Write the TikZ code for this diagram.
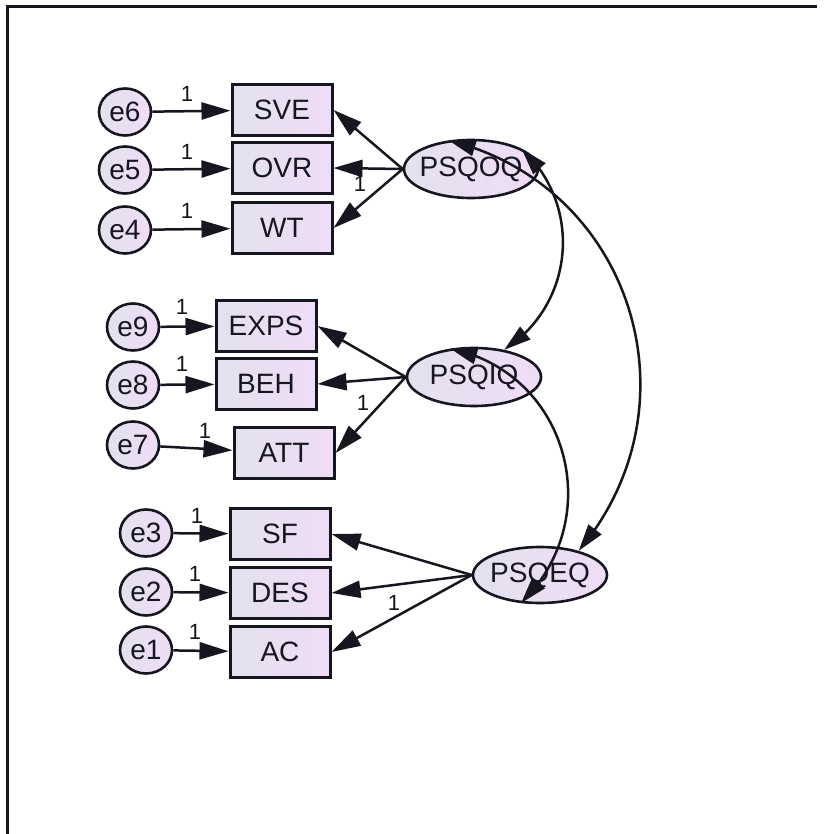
\documentclass[tikz,border=0pt]{standalone}
\usepackage{fontspec}
\setmainfont{Liberation Sans}
\usetikzlibrary{arrows.meta,bending,shapes.geometric}
\definecolor{fillL}{RGB}{226,226,238}
\definecolor{fillR}{RGB}{240,220,246}
\definecolor{ink}{RGB}{22,22,32}
\begin{document}
\begin{tikzpicture}[x=1pt,y=-1pt,
  every node/.style={text=ink},
  obs/.style={draw=ink, line width=3pt, rectangle, minimum width=100pt,
    minimum height=51pt, inner sep=0pt, left color=fillL, right color=fillR,
    font=\fontsize{28}{32}\selectfont},
  err/.style={draw=ink, line width=2.6pt, ellipse, minimum width=52pt,
    minimum height=47pt, inner sep=0pt, left color=fillL, right color=fillR,
    font=\fontsize{28}{32}\selectfont},
  lat/.style={err, inner xsep=-8pt, minimum width=134pt, minimum height=58pt},
  reg/.style={draw=ink, line width=2.5pt, -{Triangle[length=29pt,width=17pt]}},
  cov/.style={draw=ink, line width=2.5pt,
    {Triangle[length=27pt,width=16pt]}-{Triangle[length=27pt,width=16pt]}},
  wt/.style={font=\fontsize{22}{26}\selectfont, inner sep=0pt}
]
\useasboundingbox (0,0) rectangle (824,834);
\fill[white] (0,0) rectangle (824,834);
% frame
\draw[ink, line width=3pt] (817,7) -- (7,7) -- (7,834);

% latent variables
\node[lat] (oq) at (471,169) {PSQOQ};
\node[lat] (iq) at (474,377) {PSQIQ};
\node[lat, minimum height=56pt] (eq) at (540,575) {PSQEQ};

% PSQOQ indicators
\node[obs] (sve) at (282,110) {SVE};
\node[obs] (ovr) at (282,168) {OVR};
\node[obs] (wt)  at (282,228) {WT};
\node[err] (e6) at (125,112) {e6};
\node[err] (e5) at (125,170) {e5};
\node[err] (e4) at (125,230) {e4};

% PSQIQ indicators
\node[obs] (exps) at (266,326) {EXPS};
\node[obs] (beh)  at (266,384) {BEH};
\node[obs] (att)  at (284,453) {ATT};
\node[err] (e9) at (133,327) {e9};
\node[err] (e8) at (133,385) {e8};
\node[err] (e7) at (133,445) {e7};

% PSQEQ indicators
\node[obs] (sf)  at (280,534) {SF};
\node[obs] (des) at (280,593) {DES};
\node[obs] (ac)  at (280,652) {AC};
\node[err] (e3) at (146,533) {e3};
\node[err] (e2) at (146,592) {e2};
\node[err] (e1) at (146,650) {e1};

% error paths
\draw[reg] (e6) -- (sve);
\draw[reg] (e5) -- (ovr);
\draw[reg] (e4) -- (wt);
\draw[reg] (e9) -- (exps);
\draw[reg] (e8) -- (beh);
\draw[reg] (e7) -- (att);
\draw[reg] (e3) -- (sf);
\draw[reg] (e2) -- (des);
\draw[reg] (e1) -- (ac);

% factor loadings
\draw[reg] (oq.west) -- (sve.east);
\draw[reg] (oq.west) -- (ovr.east);
\draw[reg] (oq.west) -- (wt.east);
\draw[reg] (iq.west) -- (exps.east);
\draw[reg] (iq.west) -- (beh.east);
\draw[reg] (iq.west) -- (att.east);
\draw[reg] (eq.west) -- (sf.east);
\draw[reg] (eq.west) -- (des.east);
\draw[reg] (eq.west) -- (ac.east);

% fixed weights
\node[wt] (w6) at (187,94) {1};
\node[wt] (w5) at (187,152) {1};
\node[wt] (w4) at (187,211) {1};
\node[wt] (w9) at (182,307) {1};
\node[wt] (w8) at (182,364) {1};
\node[wt] (w7) at (205,431) {1};
\node[wt] (w3) at (197,516) {1};
\node[wt] (w2) at (195,574) {1};
\node[wt] (w1) at (195,632) {1};
\node[wt] (lo) at (360,184) {1};
\node[wt] (li) at (363,403) {1};
\node[wt] (le) at (394,603) {1};

% covariances
\draw[cov] (oq.128) .. controls (631,185) and (702,404) .. (eq.32);
\draw[cov] (oq.22) .. controls (583,205) and (575,304) .. (iq.42);
\draw[cov] (iq.130) .. controls (567,372) and (609,517) .. (eq.236);
\end{tikzpicture}
\end{document}
